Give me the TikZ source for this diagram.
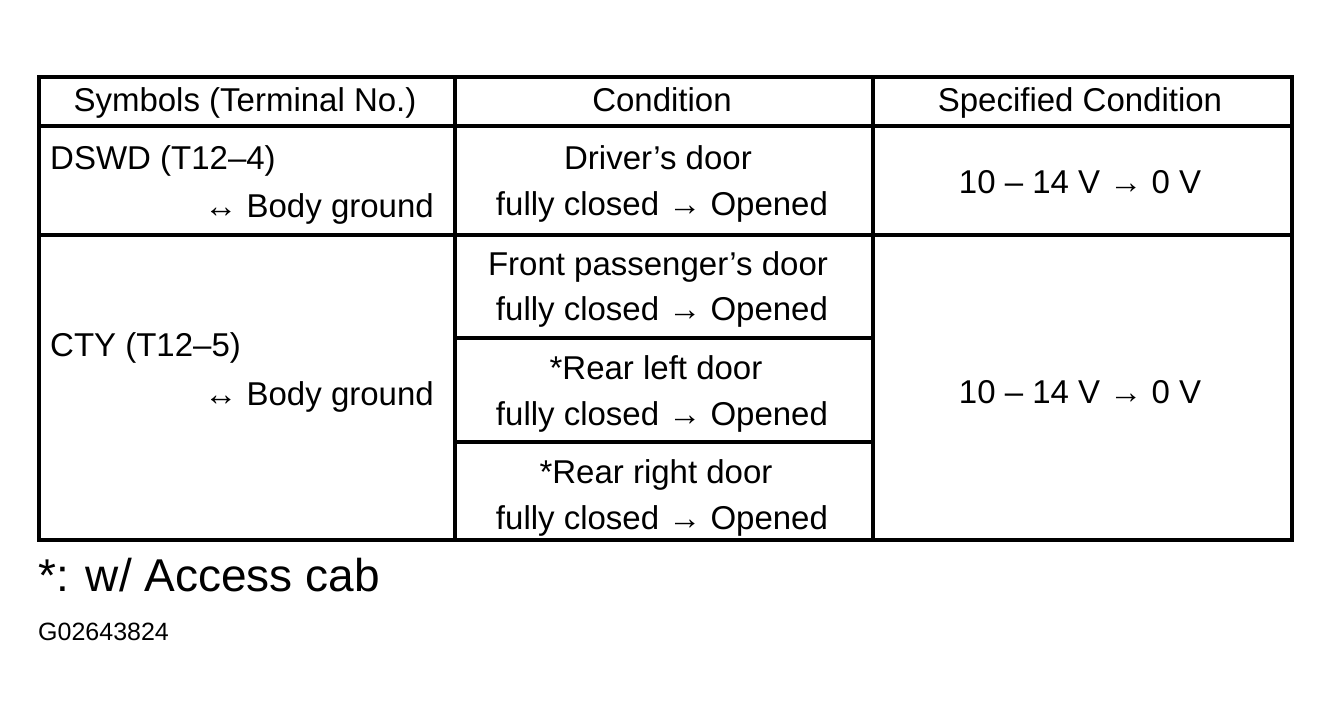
\documentclass[tikz,border=0pt]{standalone}
\usepackage{fontspec}
\setmainfont{Liberation Sans}
\begin{document}
\begin{tikzpicture}[x=1pt,y=-1pt]

        \useasboundingbox (0,0) rectangle (1331,713);

        % table rules
        \begin{scope}[line width=3.5pt]
          \draw (39,77) rectangle (1292,540);
          \draw (455,77) -- (455,540);
          \draw (873,77) -- (873,540);
          \draw (39,126) -- (1292,126);
          \draw (39,235) -- (1292,235);
          \draw (455,338) -- (873,338);
          \draw (455,442) -- (873,442);
        \end{scope}

        \begin{scope}[every node/.style={inner sep=0pt,anchor=base,font=\fontsize{33}{40}\selectfont}]
          % header
          \node (sym)  at (245,111) {Symbols (Terminal No.)};
          \node (cond) at (662,111) {Condition};
          \node (spec) at (1080,111) {Specified Condition};

          % DSWD row
          \node[anchor=base west] (dswd)  at (50,169)  {DSWD (T12–4)};
          \node[anchor=base east] (gnd1)  at (434,217) {↔ Body ground};
          \node (drv)   at (658,169)  {Driver’s door};
          \node (drvop) at (662,215)  {fully closed → Opened};
          \node (v1)    at (1080,193) {10 – 14 V → 0 V};

          % CTY row
          \node[anchor=base west] (cty)   at (50,356)  {CTY (T12–5)};
          \node[anchor=base east] (gnd2)  at (434,405) {↔ Body ground};
          \node (fp)    at (658,275)  {Front passenger’s door};
          \node (fpop)  at (662,320)  {fully closed → Opened};
          \node (rl)    at (656,379)  {*Rear left door};
          \node (rlop)  at (662,425)  {fully closed → Opened};
          \node (rr)    at (656,483)  {*Rear right door};
          \node (rrop)  at (662,529)  {fully closed → Opened};
          \node (v2)    at (1080,403) {10 – 14 V → 0 V};
        \end{scope}

        % notes below the table
        \node[inner sep=0pt,anchor=base west,font=\fontsize{46}{54}\selectfont] (note) at (38,591) {*: w/ Access cab};
        \node[inner sep=0pt,anchor=base west,font=\fontsize{25}{30}\selectfont] (code) at (38,640) {G02643824};

      \end{tikzpicture}
\end{document}
